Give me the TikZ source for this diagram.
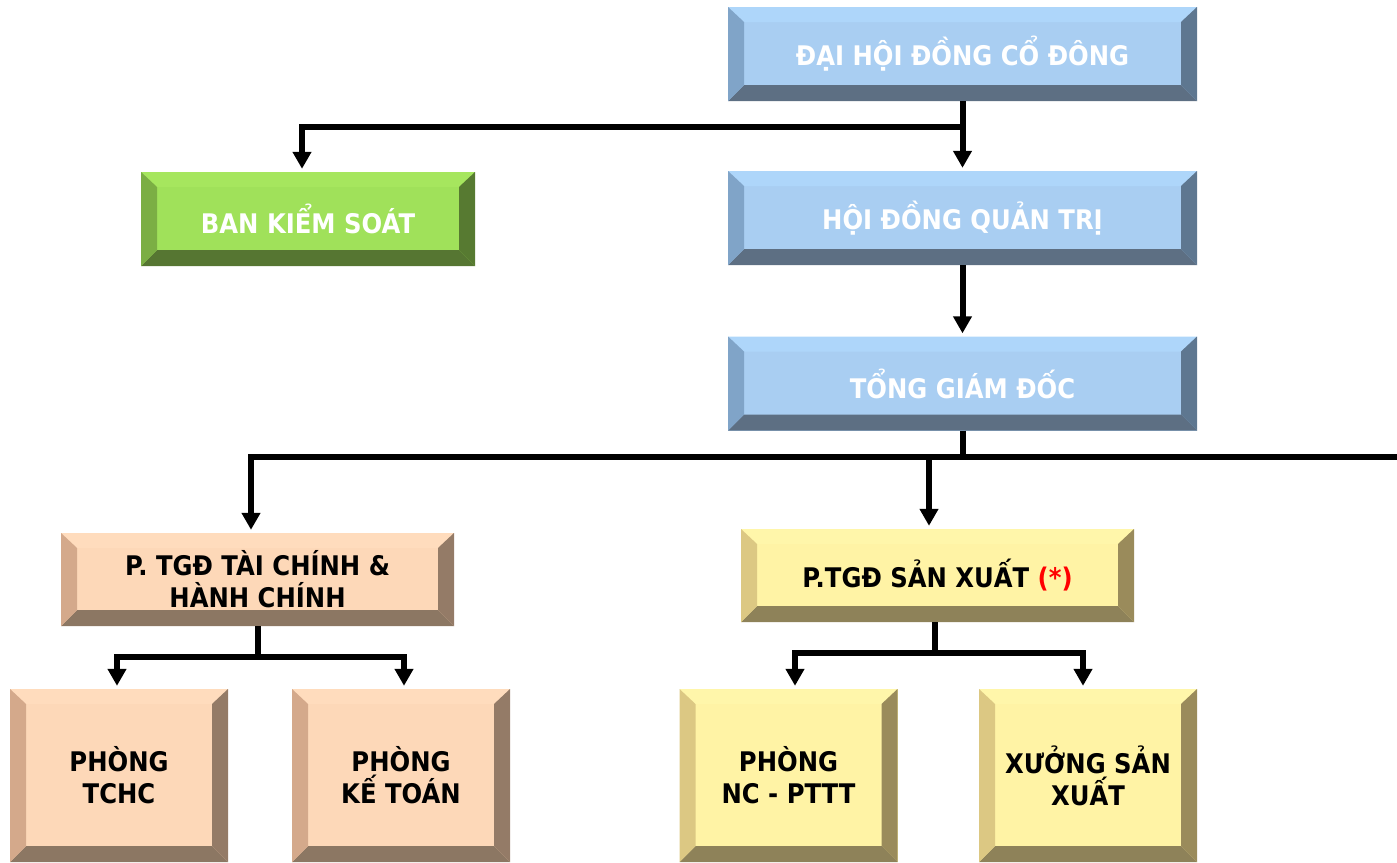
\documentclass[tikz,border=0pt]{standalone}
\usepackage{fontspec}
\setmainfont{DejaVu Sans}[FakeStretch=0.9]
\usetikzlibrary{arrows.meta}
\definecolor{bFace}{HTML}{A9CEF2}\definecolor{bTop}{HTML}{AED6FA}\definecolor{bLeft}{HTML}{80A4C8}\definecolor{bRight}{HTML}{5E7790}\definecolor{bBot}{HTML}{5D6F83}
\definecolor{gFace}{HTML}{A0E15A}\definecolor{gTop}{HTML}{A6E65E}\definecolor{gLeft}{HTML}{7BAE44}\definecolor{gRight}{HTML}{577A31}\definecolor{gBot}{HTML}{567632}
\definecolor{pFace}{HTML}{FDD8B8}\definecolor{pTop}{HTML}{FFDCBD}\definecolor{pLeft}{HTML}{D4A98B}\definecolor{pRight}{HTML}{947B67}\definecolor{pBot}{HTML}{8C7763}
\definecolor{yFace}{HTML}{FFF3A5}\definecolor{yTop}{HTML}{FFF6AA}\definecolor{yLeft}{HTML}{DCC883}\definecolor{yRight}{HTML}{9A8B5B}\definecolor{yBot}{HTML}{8E8259}
\definecolor{starred}{HTML}{FF0000}
\tikzset{
  boxbase/.style={inner sep=0pt, align=center, font=\bfseries\fontsize{27}{32}\selectfont},
  bevel/.style n args={5}{boxbase, fill=#1, path picture={
    \fill[#2] (path picture bounding box.north west) -- (path picture bounding box.north east)
      -- ([shift={(-16pt,-15pt)}]path picture bounding box.north east)
      -- ([shift={(16pt,-15pt)}]path picture bounding box.north west) -- cycle;
    \fill[#5] (path picture bounding box.south west) -- (path picture bounding box.south east)
      -- ([shift={(-16pt,16pt)}]path picture bounding box.south east)
      -- ([shift={(16pt,16pt)}]path picture bounding box.south west) -- cycle;
    \fill[#3] (path picture bounding box.north west) -- (path picture bounding box.south west)
      -- ([shift={(16pt,16pt)}]path picture bounding box.south west)
      -- ([shift={(16pt,-15pt)}]path picture bounding box.north west) -- cycle;
    \fill[#4] (path picture bounding box.north east) -- (path picture bounding box.south east)
      -- ([shift={(-16pt,16pt)}]path picture bounding box.south east)
      -- ([shift={(-16pt,-15pt)}]path picture bounding box.north east) -- cycle;
  }},
  bluebox/.style={bevel={bFace}{bTop}{bLeft}{bRight}{bBot}, text=white},
  greenbox/.style={bevel={gFace}{gTop}{gLeft}{gRight}{gBot}, text=white},
  peachbox/.style={bevel={pFace}{pTop}{pLeft}{pRight}{pBot}, text=black},
  yellowbox/.style={bevel={yFace}{yTop}{yLeft}{yRight}{yBot}, text=black},
  wide/.style={minimum width=469pt, minimum height=94pt},
  mid/.style={minimum width=393pt, minimum height=93pt},
  small/.style={minimum width=218pt, minimum height=173pt},
  line/.style={line width=6pt},
  arr/.style={line width=6pt, shorten >=3pt, -{Triangle[width=18pt,length=17pt]}},
}
\begin{document}
\begin{tikzpicture}[x=1pt,y=-1pt]
\useasboundingbox (0,0) rectangle (1397,862);
\node[bluebox, wide] (dh) at (962.5,54) {ĐẠI HỘI ĐỒNG CỔ ĐÔNG};
\node[bluebox, wide] (hd) at (962.5,218) {HỘI ĐỒNG QUẢN TRỊ};
\node[bluebox, wide] (tg) at (962.5,383.5) {TỔNG GIÁM ĐỐC};
\node[greenbox, minimum width=334pt, minimum height=94pt] (bks) at (308,219) {BAN KIỂM SOÁT};
\node[peachbox, mid] (tc) at (257.5,579.5) {P. TGĐ TÀI CHÍNH \&\\HÀNH CHÍNH};
\node[yellowbox, mid] (sx) at (937.5,575.5) {P.TGĐ SẢN XUẤT {\color{starred}(*)}};
\node[peachbox, small] (p1) at (119,775.5) {PHÒNG\\TCHC};
\node[peachbox, small] (p2) at (401,775.5) {PHÒNG\\KẾ TOÁN};
\node[yellowbox, small] (p3) at (788.5,775.5) {PHÒNG\\NC - PTTT};
\node[yellowbox, small] (p4) at (1088,775.5) {XƯỞNG SẢN\\XUẤT};
\coordinate (j1) at (962.5,127);
\coordinate (j2) at (962.5,457);
\coordinate (rEnd) at (1397,457);
\coordinate (j3) at (257.5,657);
\coordinate (j4) at (935,653);
\draw[line] (dh.south) -- (j1);
\draw[arr] (j1) -- (hd.north);
\draw[arr] (j1) -| ([xshift=-6pt]bks.north);
\draw[arr] (hd.south) -- (tg.north);
\draw[line] (tg.south) -- (j2) -- (rEnd);
\draw[arr] (j2) -| ([xshift=-6.5pt]tc.north);
\draw[arr] (j2) -| ([xshift=-8.5pt]sx.north);
\draw[line] (tc.south) -- (j3);
\draw[arr] (j3) -| ([xshift=-2pt]p1.north);
\draw[arr] (j3) -| ([xshift=3pt]p2.north);
\draw[line] ([xshift=-2.5pt]sx.south) -- (j4);
\draw[arr] (j4) -| ([xshift=6.5pt]p3.north);
\draw[arr] (j4) -| ([xshift=-5pt]p4.north);
\end{tikzpicture}
\end{document}
